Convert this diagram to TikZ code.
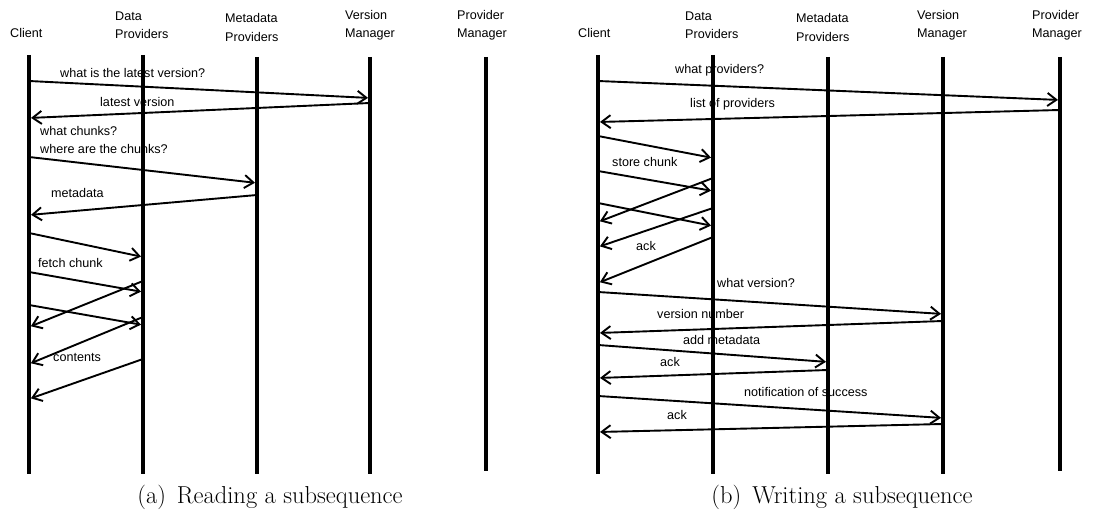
\documentclass[tikz,border=0pt]{standalone}
\usepackage{fontspec}
\setsansfont{Liberation Sans}
\usetikzlibrary{arrows.meta}

\begin{document}
\begin{tikzpicture}[x=1pt,y=-1pt,
    lifeline/.style={line width=4.5pt},
    msg/.style={line width=1.9pt,shorten >=2pt,-{Straight Barb[length=9pt,width=13pt]}},
    lbl/.style={font=\sffamily\fontsize{12.6}{18}\selectfont,anchor=west,inner sep=0pt},
    head/.style={lbl,align=left},
    captxt/.style={font=\fontsize{24.5}{28}\selectfont,anchor=base}]
    \useasboundingbox[fill=white] (0,0) rectangle (1093,521);

    % (a) reading
    \node[lbl] (hcl) at (10,33) {Client};
    \node[head] (hdp) at (115,25) {Data\\Providers};
    \node[head] (hmp) at (225,27.5) {Metadata\\Providers};
    \node[head] (hvm) at (345,25) {Version\\Manager};
    \node[head] (hpm) at (457,25) {Provider\\Manager};

    \node[lbl] (q1) at (60,73) {what is the latest version?};
    \node[lbl] (r1) at (100,102) {latest version};
    \node[lbl] (q2) at (40,131) {what chunks?};
    \node[lbl] (q3) at (40,149) {where are the chunks?};
    \node[lbl] (r3) at (51,193) {metadata};
    \node[lbl] (q4) at (38,263) {fetch chunk};
    \node[lbl] (r4) at (53,357) {contents};

    \coordinate (cl) at (29,55);
    \coordinate (dp) at (143,55);
    \coordinate (mp) at (257,57);
    \coordinate (vm) at (370,57);
    \coordinate (pm) at (486,57);
    \draw[lifeline] (cl) -- (cl |- 0,474);
    \draw[lifeline] (dp) -- (dp |- 0,474);
    \draw[lifeline] (mp) -- (mp |- 0,474);
    \draw[lifeline] (vm) -- (vm |- 0,474);
    \draw[lifeline] (pm) -- (pm |- 0,471);

    \draw[msg] (cl |- 0,81) -- (vm |- 0,98);
    \draw[msg] (vm |- 0,103) -- (cl |- 0,118);
    \draw[msg] (cl |- 0,157) -- (mp |- 0,183);
    \draw[msg] (mp |- 0,195) -- (cl |- 0,215);
    \draw[msg] (cl |- 0,233) -- (dp |- 0,257);
    \draw[msg] (cl |- 0,272) -- (dp |- 0,292);
    \draw[msg] (dp |- 0,281) -- (cl |- 0,327);
    \draw[msg] (cl |- 0,305) -- (dp |- 0,325);
    \draw[msg] (dp |- 0,317) -- (cl |- 0,364);
    \draw[msg] (dp |- 0,359) -- (cl |- 0,399);

    \node[captxt] (capa) at (270,503) {(a)\hspace{0.45em}Reading a subsequence};

    % (b) writing
    \node[lbl] (hcl2) at (578,33) {Client};
    \node[head] (hdp2) at (685,25) {Data\\Providers};
    \node[head] (hmp2) at (796,27.5) {Metadata\\Providers};
    \node[head] (hvm2) at (917,25) {Version\\Manager};
    \node[head] (hpm2) at (1032,25) {Provider\\Manager};

    \node[lbl] (w1) at (675,70) {what providers?};
    \node[lbl] (a1) at (690,104) {list of providers};
    \node[lbl] (w2) at (612,162) {store chunk};
    \node[lbl] (a2) at (636,246) {ack};
    \node[lbl] (w3) at (717,283) {what version?};
    \node[lbl] (a3) at (657,314) {version number};
    \node[lbl] (w4) at (683,340) {add metadata};
    \node[lbl] (a4) at (660,362) {ack};
    \node[lbl] (w5) at (744,392) {notification of success};
    \node[lbl] (a5) at (667,415) {ack};

    \coordinate (cl2) at (598,55);
    \coordinate (dp2) at (713,55);
    \coordinate (mp2) at (828,57);
    \coordinate (vm2) at (943,57);
    \coordinate (pm2) at (1060,57);
    \draw[lifeline] (cl2) -- (cl2 |- 0,474);
    \draw[lifeline] (dp2) -- (dp2 |- 0,474);
    \draw[lifeline] (mp2) -- (mp2 |- 0,474);
    \draw[lifeline] (vm2) -- (vm2 |- 0,474);
    \draw[lifeline] (pm2) -- (pm2 |- 0,471);

    \draw[msg] (cl2 |- 0,81) -- (pm2 |- 0,100);
    \draw[msg] (pm2 |- 0,110) -- (cl2 |- 0,122);
    \draw[msg] (cl2 |- 0,136) -- (dp2 |- 0,158);
    \draw[msg] (cl2 |- 0,171) -- (dp2 |- 0,191);
    \draw[msg] (dp2 |- 0,178) -- (cl2 |- 0,222);
    \draw[msg] (cl2 |- 0,203) -- (dp2 |- 0,226);
    \draw[msg] (dp2 |- 0,208) -- (cl2 |- 0,247);
    \draw[msg] (dp2 |- 0,237) -- (cl2 |- 0,283);
    \draw[msg] (cl2 |- 0,292) -- (vm2 |- 0,314);
    \draw[msg] (vm2 |- 0,321) -- (cl2 |- 0,333);
    \draw[msg] (cl2 |- 0,345) -- (mp2 |- 0,362);
    \draw[msg] (mp2 |- 0,370) -- (cl2 |- 0,378);
    \draw[msg] (cl2 |- 0,396) -- (vm2 |- 0,418);
    \draw[msg] (vm2 |- 0,424) -- (cl2 |- 0,432);

    \node[captxt] (capb) at (842,503) {(b)\hspace{0.45em}Writing a subsequence};
\end{tikzpicture}
\end{document}
